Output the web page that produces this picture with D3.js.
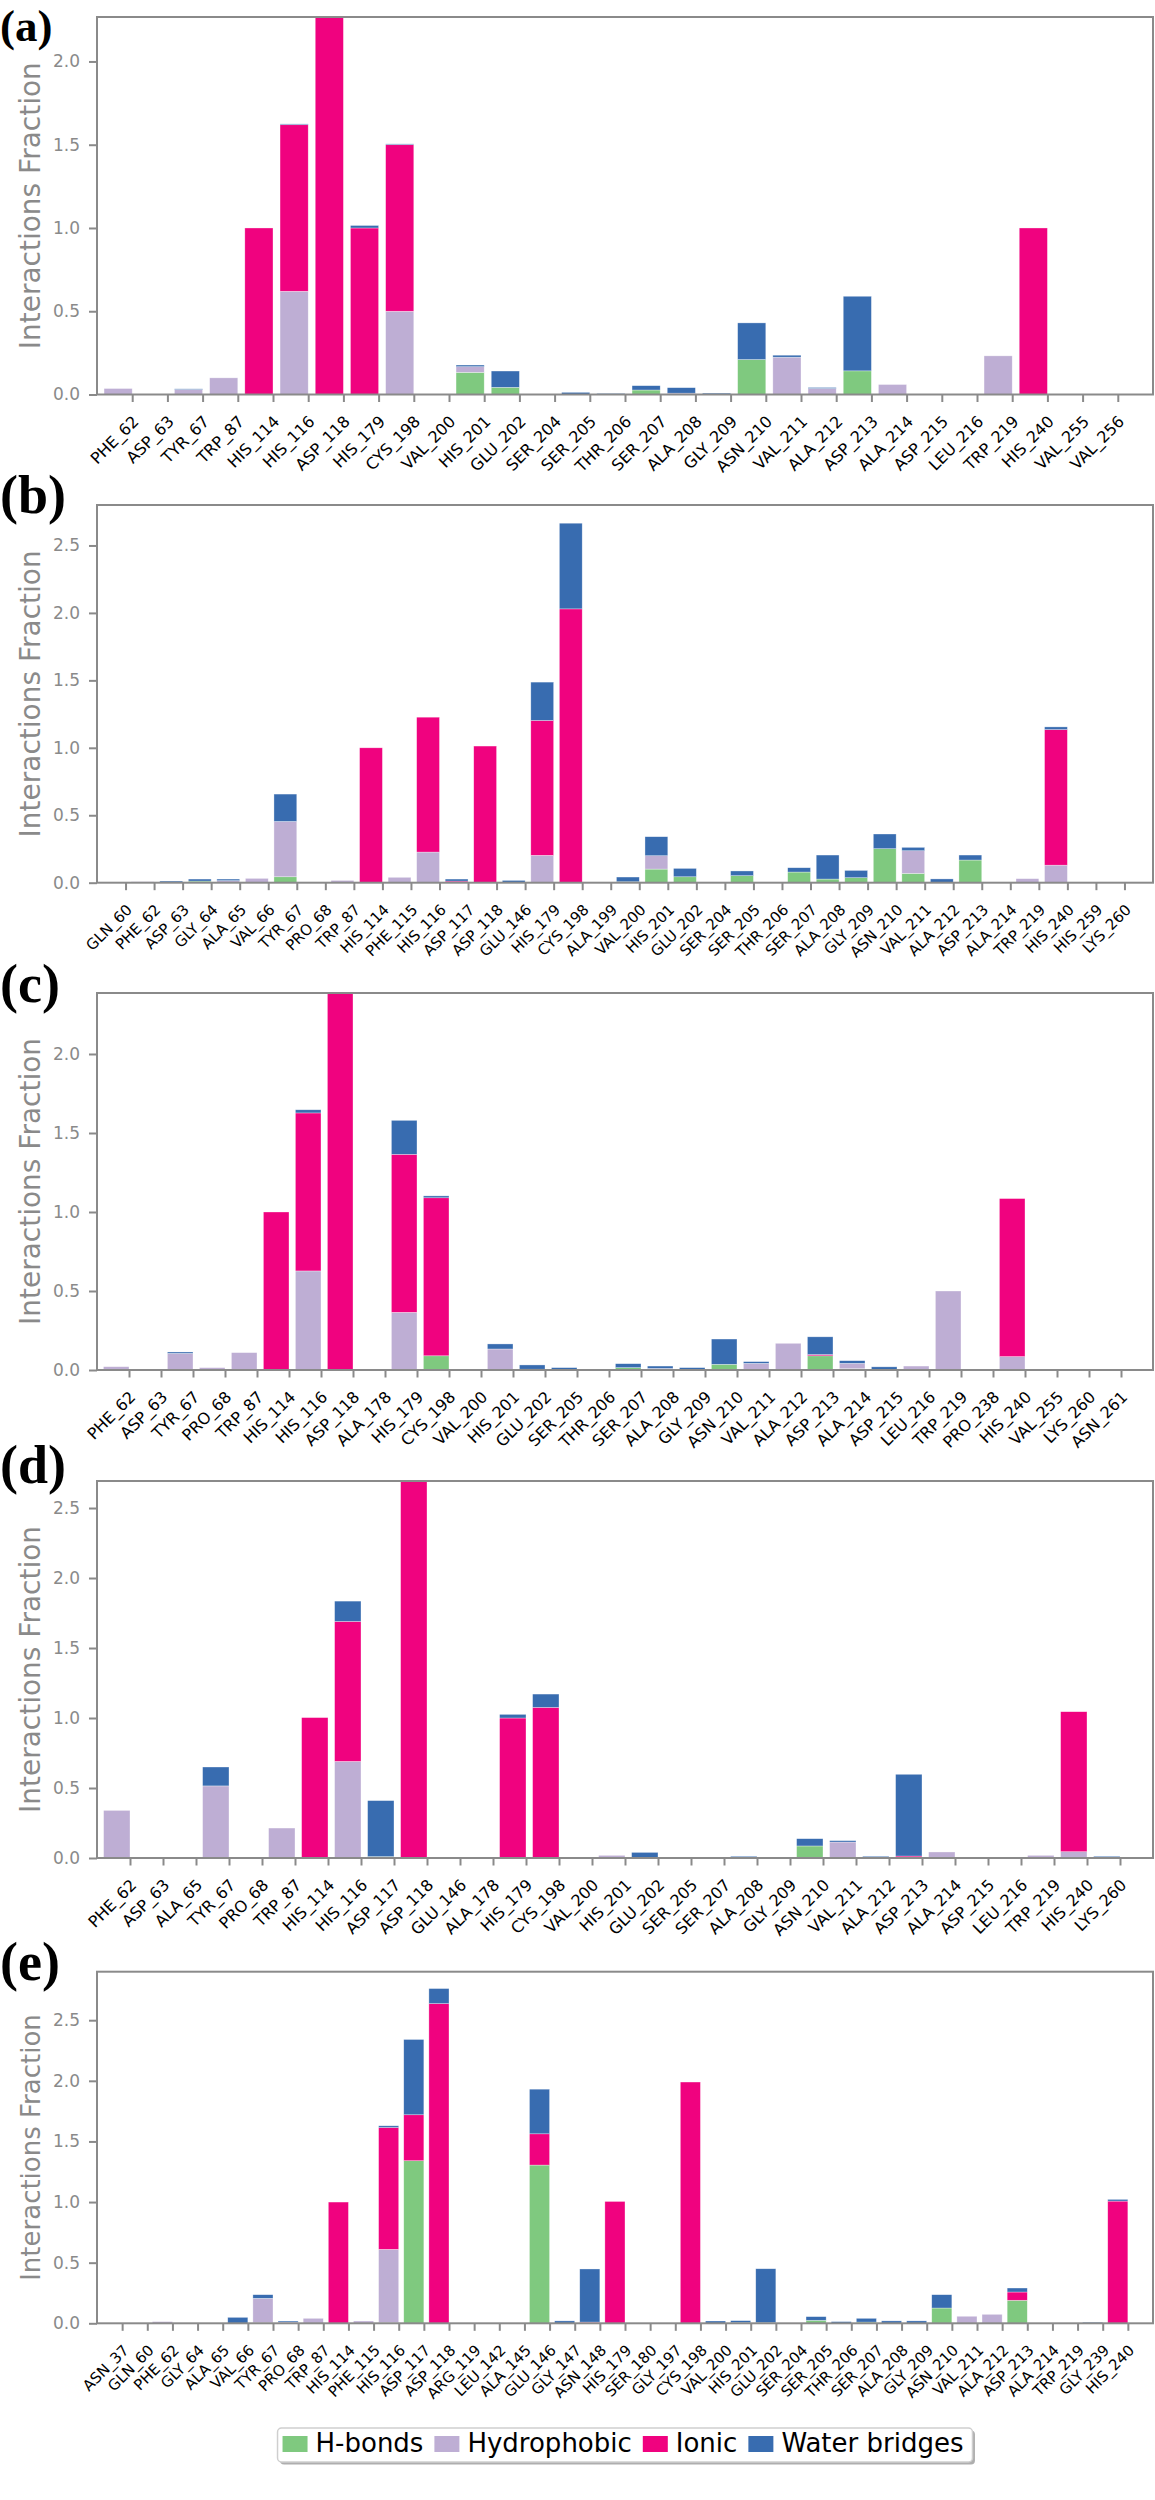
<!DOCTYPE html>
<html>
<head>
<meta charset="utf-8">
<script src="https://cdn.jsdelivr.net/npm/d3@7/dist/d3.min.js"></script>
<style>
  html, body { margin: 0; padding: 0; background: #fff; }
  svg { display: block; }
</style>
</head>
<body>
<svg id="chart" width="1155" height="2500"></svg>
<script>
// ---------------- DATA ----------------
const seriesNames = ["H-bonds", "Hydrophobic", "Ionic", "Water bridges"];

// (a)
const catsA = ["PHE_62","ASP_63","TYR_67","TRP_87","HIS_114","HIS_116","ASP_118","HIS_179","CYS_198","VAL_200","HIS_201","GLU_202","SER_204","SER_205","THR_206","SER_207","ALA_208","GLY_209","ASN_210","VAL_211","ALA_212","ASP_213","ALA_214","ASP_215","LEU_216","TRP_219","HIS_240","VAL_255","VAL_256"];
const hbA  = [0,0,0,0,0,0,0,0,0,0,0.133,0.043,0,0,0,0.027,0,0,0.21,0,0,0.142,0,0,0,0,0,0,0];
const hydA = [0.036,0,0.03,0.10,0,0.62,0,0,0.5,0,0.034,0,0,0,0,0,0.008,0,0,0.224,0.036,0,0.06,0,0,0.232,0,0,0];
const ionA = [0,0,0,0,1,1,2.267,1,1,0,0,0,0,0,0,0,0,0,0,0,0,0,0,0,0,0,1,0,0];
const wbA  = [0,0,0.004,0,0,0.005,0,0.015,0.005,0,0.01,0.098,0,0.013,0.006,0.026,0.033,0.008,0.22,0.012,0.006,0.448,0,0,0,0,0,0,0];

// (b)
const catsB = ["GLN_60","PHE_62","ASP_63","GLY_64","ALA_65","VAL_66","TYR_67","PRO_68","TRP_87","HIS_114","PHE_115","HIS_116","ASP_117","ASP_118","GLU_146","HIS_179","CYS_198","ALA_199","VAL_200","HIS_201","GLU_202","SER_204","SER_205","THR_206","SER_207","ALA_208","GLY_209","ASN_210","VAL_211","ALA_212","ASP_213","ALA_214","TRP_219","HIS_240","HIS_259","LYS_260"];
const hbB  = [0,0,0,0.012,0,0,0.044,0,0,0,0,0,0,0,0,0,0,0,0.007,0.101,0.044,0,0.052,0,0.079,0.027,0.037,0.252,0.069,0,0.168,0,0,0,0,0];
const hydB = [0,0.007,0,0,0.015,0.032,0.41,0,0.017,0,0.04,0.227,0,0,0,0.203,0,0,0,0.099,0,0,0,0,0,0,0,0,0.168,0,0,0.005,0.03,0.13,0,0];
const ionB = [0,0,0,0,0,0,0,0,0,1,0,1,0.012,1.013,0,1,2.03,0,0,0,0,0,0,0,0,0,0,0,0,0,0,0,0,1.005,0,0];
const wbB  = [0,0,0.012,0.015,0.012,0,0.203,0,0,0,0,0,0.015,0,0.017,0.284,0.635,0,0.035,0.141,0.062,0,0.035,0,0.032,0.178,0.054,0.109,0.025,0.028,0.037,0,0,0.02,0,0];

// (c)
const catsC = ["PHE_62","ASP_63","TYR_67","PRO_68","TRP_87","HIS_114","HIS_116","ASP_118","ALA_178","HIS_179","CYS_198","VAL_200","HIS_201","GLU_202","SER_205","THR_206","SER_207","ALA_208","GLY_209","ASN_210","VAL_211","ALA_212","ASP_213","ALA_214","ASP_215","LEU_216","TRP_219","PRO_238","HIS_240","VAL_255","LYS_260","ASN_261"];
const hbC  = [0,0,0,0,0,0,0,0,0,0,0.09,0,0,0,0,0,0.015,0,0,0.036,0,0,0.09,0.008,0,0,0,0,0,0,0,0];
const hydC = [0.021,0,0.105,0.015,0.11,0,0.627,0,0,0.365,0,0,0.133,0,0,0,0,0.01,0,0,0.042,0.169,0,0.034,0,0.025,0.5,0,0.085,0,0,0];
const ionC = [0,0,0,0,0,1,1,2.386,0,1,1,0,0,0.005,0,0,0,0,0,0,0,0,0.008,0,0,0,0,0,1,0,0,0];
const wbC  = [0,0,0.009,0,0,0,0.02,0,0,0.215,0.012,0,0.032,0.027,0.015,0,0.025,0.015,0.015,0.16,0.011,0,0.112,0.017,0.02,0,0,0,0,0,0,0];

// (d)
const catsD = ["PHE_62","ASP_63","ALA_65","TYR_67","PRO_68","TRP_87","HIS_114","HIS_116","ASP_117","ASP_118","GLU_146","ALA_178","HIS_179","CYS_198","VAL_200","HIS_201","GLU_202","SER_205","SER_207","ALA_208","GLY_209","ASN_210","VAL_211","ALA_212","ASP_213","ALA_214","ASP_215","LEU_216","TRP_219","HIS_240","LYS_260"];
const hbD  = [0,0,0,0.005,0,0,0.003,0,0.01,0,0,0,0,0.003,0,0,0,0,0,0,0,0.086,0,0,0,0,0,0,0,0,0];
const hydD = [0.34,0,0.004,0.51,0,0.214,0,0.69,0,0,0,0,0,0,0,0.019,0,0,0,0,0,0,0.114,0,0,0.043,0,0.004,0.019,0.045,0];
const ionD = [0,0,0,0,0,0,1,1,0,2.693,0,0,1,1.073,0,0,0,0,0,0,0,0,0,0,0.014,0,0,0,0,1,0];
const wbD  = [0,0,0,0.135,0,0,0,0.145,0.40,0,0,0,0.026,0.095,0,0,0.04,0,0,0.012,0,0.052,0.01,0.012,0.584,0,0,0,0,0,0.012];

// (e)
const catsE = ["ASN_37","GLN_60","PHE_62","GLY_64","ALA_65","VAL_66","TYR_67","PRO_68","TRP_87","HIS_114","PHE_115","HIS_116","ASP_117","ASP_118","ARG_119","LEU_142","ALA_145","GLU_146","GLY_147","ASN_148","HIS_179","SER_180","GLY_197","CYS_198","VAL_200","HIS_201","GLU_202","SER_204","SER_205","THR_206","SER_207","ALA_208","GLY_209","ASN_210","VAL_211","ALA_212","ASP_213","ALA_214","TRP_219","GLY_239","HIS_240"];
const hbE  = [0,0,0,0,0,0,0.004,0,0,0,0,0.005,1.341,0,0,0,0,1.305,0,0.004,0,0,0,0,0,0.005,0.005,0,0.025,0,0.01,0,0,0.126,0,0,0.19,0,0,0,0];
const hydE = [0,0,0.014,0,0,0,0.202,0.01,0.041,0,0.019,0.605,0,0,0,0,0,0,0,0,0,0,0,0,0,0,0,0,0,0,0,0,0,0,0.058,0.074,0,0,0,0,0];
const ionE = [0,0,0,0,0,0,0,0,0,1,0,1.005,0.379,2.637,0,0,0,0.258,0,0.006,1.005,0,0,1.99,0,0,0,0,0,0,0,0,0,0,0,0,0.068,0,0,0,1.008];
const wbE  = [0,0,0,0,0,0.049,0.03,0.009,0,0,0,0.014,0.621,0.124,0,0,0,0.368,0.02,0.438,0,0,0,0,0.019,0.017,0.445,0,0.03,0.014,0.031,0.02,0.02,0.11,0,0,0.033,0,0,0.008,0.014];

const yTicksA = [0, 0.5, 1.0, 1.5, 2.0];
const yTicksB = [0, 0.5, 1.0, 1.5, 2.0, 2.5];
const yTicksC = [0, 0.5, 1.0, 1.5, 2.0];
const yTicksD = [0, 0.5, 1.0, 1.5, 2.0, 2.5];
const yTicksE = [0, 0.5, 1.0, 1.5, 2.0, 2.5];

// ---------------- PANELS ----------------
const panels = [
  {label:"(a)", cats:catsA, hb:hbA, hyd:hydA, ion:ionA, wb:wbA, ticks:yTicksA, top:17,     zero:394.5,  ymax:2.267, labBase:40.5, lfs:45, xfs:16, yfs:28},
  {label:"(b)", cats:catsB, hb:hbB, hyd:hydB, ion:ionB, wb:wbB, ticks:yTicksB, top:505,    zero:882.7,  ymax:2.80,  labBase:513,  lfs:54, xfs:15, yfs:28},
  {label:"(c)", cats:catsC, hb:hbC, hyd:hydC, ion:ionC, wb:wbC, ticks:yTicksC, top:993,    zero:1370,   ymax:2.386, labBase:1002, lfs:54, xfs:16, yfs:28},
  {label:"(d)", cats:catsD, hb:hbD, hyd:hydD, ion:ionD, wb:wbD, ticks:yTicksD, top:1481,   zero:1858,   ymax:2.693, labBase:1483, lfs:54, xfs:16, yfs:28},
  {label:"(e)", cats:catsE, hb:hbE, hyd:hydE, ion:ionE, wb:wbE, ticks:yTicksE, top:1971.7, zero:2323.3, ymax:2.90,  labBase:1980, lfs:54, xfs:15, yfs:26}
];

const keys = ["hb", "hyd", "ion", "wb"];
const colors = {hb:"#7fc97f", hyd:"#beaed4", ion:"#f0027f", wb:"#386cb0"};
const spine = "#8a8a8a";
const FONT = "'DejaVu Sans', sans-serif";
const L = 97, R = 1153;

const svg = d3.select("#chart");
const defs = svg.append("defs");

panels.forEach((p, k) => {
  const n = p.cats.length;
  const g = svg.append("g");
  const x = d3.scaleLinear().domain([0, n + 1]).range([L, R]);
  const y = d3.scaleLinear().domain([0, p.ymax]).range([p.zero, p.top]);

  const rows = p.cats.map((c, i) => ({i, hb:p.hb[i], hyd:p.hyd[i], ion:p.ion[i], wb:p.wb[i]}));
  const stacked = d3.stack().keys(keys)(rows);

  defs.append("clipPath").attr("id", "clip" + k)
    .append("rect").attr("x", L).attr("y", p.top).attr("width", R - L).attr("height", p.zero - p.top);

  g.append("g").attr("clip-path", `url(#clip${k})`)
    .selectAll("g").data(stacked).join("g")
    .attr("fill", d => colors[d.key])
    .selectAll("rect").data(d => d.filter(s => s[1] - s[0] > 0)).join("rect")
    .attr("x", d => x(d.data.i + 0.2))
    .attr("width", d => x(d.data.i + 1) - x(d.data.i + 0.2))
    .attr("y", d => y(d[1]))
    .attr("height", d => y(d[0]) - y(d[1]))
    .attr("stroke", "#ffffff").attr("stroke-width", 0.6).attr("stroke-opacity", 0.55);

  // y axis
  const ya = g.append("g").attr("transform", `translate(${L},0)`)
    .call(d3.axisLeft(y).tickValues(p.ticks).tickFormat(d3.format(".1f")).tickSize(8).tickPadding(9));
  ya.select(".domain").remove();
  ya.selectAll("line").attr("stroke", spine).attr("stroke-width", 2);
  ya.selectAll("text").attr("fill", spine).style("font-family", FONT).style("font-size", "17px");

  // x axis
  const xa = g.append("g").attr("transform", `translate(0,${p.zero})`)
    .call(d3.axisBottom(x).tickValues(d3.range(1, n + 1)).tickFormat(v => p.cats[v - 1]).tickSize(7.5));
  xa.select(".domain").remove();
  xa.selectAll("line").attr("stroke", spine).attr("stroke-width", 2);
  xa.selectAll("text")
    .attr("x", 0).attr("y", 0).attr("dy", 0)
    .attr("text-anchor", "end")
    .attr("transform", `translate(7,28) rotate(-45)`)
    .attr("fill", "#000")
    .style("font-family", FONT).style("font-size", p.xfs + "px");

  // frame
  g.append("rect").attr("x", L).attr("y", p.top).attr("width", R - L).attr("height", p.zero - p.top)
    .attr("fill", "none").attr("stroke", spine).attr("stroke-width", 2);

  // y label
  g.append("text")
    .attr("transform", `translate(40,${(p.top + p.zero) / 2}) rotate(-90)`)
    .attr("text-anchor", "middle")
    .attr("fill", spine)
    .style("font-family", FONT).style("font-size", p.yfs + "px")
    .text("Interactions Fraction");

  // panel label
  g.append("text")
    .attr("x", 0).attr("y", p.labBase)
    .attr("fill", "#000")
    .style("font-family", "'Liberation Serif', 'Times New Roman', serif")
    .style("font-weight", "bold").style("font-size", p.lfs + "px")
    .text(p.label);
});

// ---------------- LEGEND ----------------
const lg = svg.append("g");
const boxTop = 2428, boxH = 34;
const shadow = lg.append("rect");
const box = lg.append("rect");
let cx = 5;
const items = lg.append("g");
seriesNames.forEach((name, i) => {
  items.append("rect").attr("x", cx).attr("y", boxTop + 8).attr("width", 25).attr("height", 16)
    .attr("fill", colors[keys[i]]);
  const t = items.append("text").attr("x", cx + 33).attr("y", boxTop + 24)
    .attr("fill", "#000").style("font-family", FONT).style("font-size", "26px").text(name);
  const w = t.node().getComputedTextLength();
  cx = cx + 33 + w + (i < seriesNames.length - 1 ? 11 : 9);
});
const totalW = cx;
const left = (L + R) / 2 - totalW / 2;
lg.attr("transform", `translate(${left},0)`);
shadow.attr("x", 2.5).attr("y", boxTop + 2.5).attr("width", totalW).attr("height", boxH)
  .attr("rx", 4).attr("fill", "#9a9a9a").attr("opacity", 0.8);
box.attr("x", 0).attr("y", boxTop).attr("width", totalW).attr("height", boxH)
  .attr("rx", 4).attr("fill", "#fff").attr("stroke", "#cfcfcf").attr("stroke-width", 1.5);
</script>
</body>
</html>
